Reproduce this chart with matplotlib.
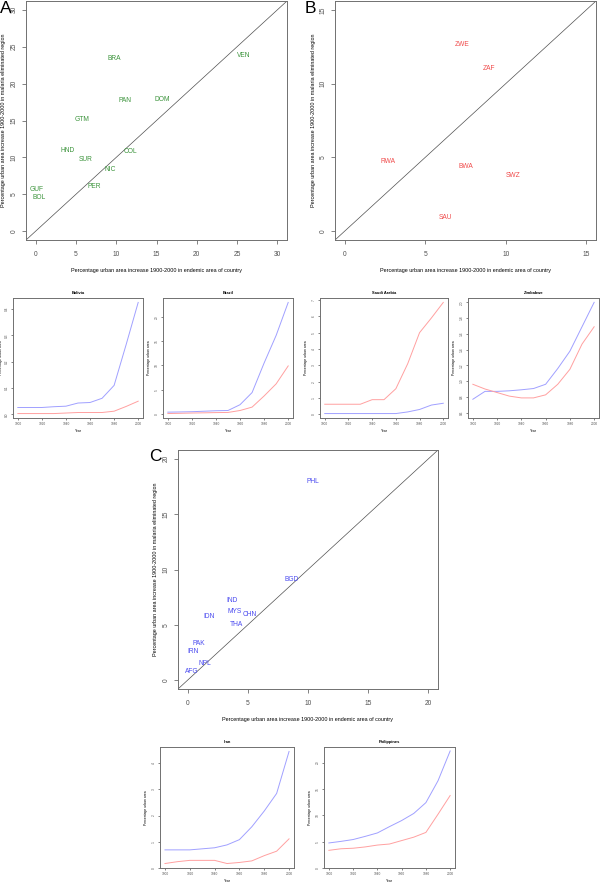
import numpy as np
import matplotlib
matplotlib.use("Agg")
import matplotlib.pyplot as plt

plt.rcParams['font.family'] = ['Liberation Sans', 'DejaVu Sans']

# ---- scatter panels (country codes drawn as text) ----
a_codes = ["BRA", "VEN", "PAN", "DOM", "GTM", "HND", "COL", "SUR", "NIC", "PER", "GUF", "BOL"]
a_x = [9.7, 25.8, 11.1, 15.7, 5.7, 4.0, 11.8, 6.2, 9.25, 7.25, 0.17, 0.42]
a_y = [23.4, 23.85, 17.75, 17.8, 15.1, 11.0, 10.85, 9.76, 8.4, 6.05, 5.69, 4.61]

b_codes = ["ZWE", "ZAF", "RWA", "BWA", "SWZ", "SAU"]
b_x = [7.3, 8.98, 2.72, 7.51, 10.48, 6.24]
b_y = [12.67, 11.05, 4.74, 4.4, 3.75, 0.9]

c_codes = ["PHL", "BGD", "IND", "MYS", "CHN", "IDN", "THA", "PAK", "IRN", "NPL", "AFG"]
c_x = [10.37, 8.66, 3.68, 3.9, 5.12, 1.8, 4.07, 0.97, 0.47, 1.47, 0.36]
c_y = [17.95, 9.08, 7.16, 6.17, 5.95, 5.71, 5.02, 3.28, 2.56, 1.5, 0.75]

# ---- small time-series panels ----
years = [1900, 1910, 1920, 1930, 1940, 1950, 1960, 1970, 1980, 1990, 2000]

bolivia_blue = [0.026, 0.026, 0.026, 0.029, 0.031, 0.043, 0.045, 0.061, 0.11, 0.265, 0.425]
bolivia_red = [0.003, 0.003, 0.003, 0.003, 0.005, 0.007, 0.007, 0.007, 0.012, 0.03, 0.05]

brazil_blue = [0.36, 0.4, 0.45, 0.55, 0.65, 0.7, 1.9, 4.4, 10.5, 16.2, 23.0]
brazil_red = [0.07, 0.12, 0.18, 0.22, 0.27, 0.3, 0.7, 1.4, 3.7, 6.2, 9.9]

saudi_blue = [0.05, 0.05, 0.05, 0.05, 0.05, 0.05, 0.05, 0.15, 0.3, 0.57, 0.68]
saudi_red = [0.62, 0.62, 0.62, 0.62, 0.9, 0.9, 1.57, 3.1, 5.0, 5.9, 6.85]

zimbabwe_blue = [0.77, 0.87, 0.87, 0.877, 0.89, 0.906, 0.96, 1.16, 1.38, 1.69, 2.0]
zimbabwe_red = [0.96, 0.9, 0.855, 0.81, 0.787, 0.787, 0.826, 0.96, 1.15, 1.47, 1.69]

iran_blue = [0.69, 0.69, 0.69, 0.73, 0.77, 0.88, 1.08, 1.57, 2.17, 2.84, 4.44]
iran_red = [0.17, 0.24, 0.29, 0.29, 0.29, 0.17, 0.21, 0.27, 0.47, 0.64, 1.11]

phil_blue = [4.75, 5.05, 5.4, 6.0, 6.65, 7.85, 9.0, 10.35, 12.4, 16.55, 22.2]
phil_red = [3.35, 3.65, 3.75, 4.0, 4.35, 4.55, 5.2, 5.85, 6.75, 10.2, 13.75]

W, H = 600, 882
fig = plt.figure(figsize=(W / 100, H / 100), dpi=100)


def rect(x0, y0, x1, y1):
    return [x0 / W, 1 - y1 / H, (x1 - x0) / W, (y1 - y0) / H]


def r_style(ax, tick_fs, ticklen):
    for s in ax.spines.values():
        s.set_color('#707070')
        s.set_linewidth(0.7)
    ax.tick_params(length=ticklen, width=0.5, colors='#505050', labelsize=tick_fs, pad=1.5)
    for lab in ax.get_yticklabels():
        lab.set_rotation(90)
        lab.set_va('center')


def scatter_panel(r, codes, xs, ys, color, lim, ticks, letter, letter_xy):
    ax = fig.add_axes(rect(*r))
    pad = lim * 0.04
    ax.set_xlim(-pad, lim + pad)
    ax.set_ylim(-pad, lim + pad)
    ax.plot([-pad, lim + pad], [-pad, lim + pad], color='#505050', lw=0.5)
    for c, x, y in zip(codes, xs, ys):
        ax.text(x, y, c, color=color, fontsize=4.8, ha='center', va='center')
    ax.set_xticks(ticks)
    ax.set_yticks(ticks)
    r_style(ax, 4.8, 3)
    ax.tick_params(axis='x', pad=5)
    ax.tick_params(axis='y', pad=3)
    ax.set_xlabel("Percentage urban area increase 1900-2000 in endemic area of country",
                  fontsize=3.9, labelpad=7)
    ax.set_ylabel("Percentage urban area increase 1900-2000 in malaria eliminated region",
                  fontsize=3.9, labelpad=3)
    fig.text(letter_xy[0] / W, 1 - letter_xy[1] / H, letter, fontsize=12.5,
             ha='left', va='top')
    return ax


scatter_panel((26, 1, 287, 240), a_codes, a_x, a_y, '#3c943c', 30,
              [0, 5, 10, 15, 20, 25, 30], "A", (0, 1))
scatter_panel((335, 1, 596, 240), b_codes, b_x, b_y, '#f04a4a', 15,
              [0, 5, 10, 15], "B", (305, 1))
scatter_panel((178, 450, 438, 689), c_codes, c_x, c_y, '#4a4af0', 20,
              [0, 5, 10, 15, 20], "C", (149, 449))


def ts_panel(r, title, blue, red, yticks, ylim=None, ylabelpad=3):
    ax = fig.add_axes(rect(*r))
    ax.plot(years, blue, color='#a0a0ff', lw=0.7)
    ax.plot(years, red, color='#ffa0a0', lw=0.7)
    ax.margins(x=0.04, y=0.04)
    if ylim is not None:
        ax.set_ylim(*ylim)
    ax.set_xticks([1900, 1920, 1940, 1960, 1980, 2000])
    ax.set_yticks(yticks)
    r_style(ax, 2.3, 1.5)
    ax.set_title(title, fontsize=2.9, fontweight='bold', pad=3)
    ax.set_xlabel("Year", fontsize=2.4, labelpad=2)
    ax.set_ylabel("Percentage urban area", fontsize=2.4, labelpad=ylabelpad)
    return ax


ts_panel((13, 298, 143, 418), "Bolivia", bolivia_blue, bolivia_red,
         [0.0, 0.1, 0.2, 0.3, 0.4], ylabelpad=1)
ts_panel((163, 298, 293, 418), "Brazil", brazil_blue, brazil_red,
         [0, 5, 10, 15, 20])
ts_panel((320, 298, 448, 418), "Saudi Arabia", saudi_blue, saudi_red,
         [0, 1, 2, 3, 4, 5, 6, 7])
ts_panel((468, 298, 599, 418), "Zimbabwe", zimbabwe_blue, zimbabwe_red,
         [0.6, 0.8, 1.0, 1.2, 1.4, 1.6, 1.8, 2.0], ylim=(0.532, 2.055))
ts_panel((160, 747, 294, 868), "Iran", iran_blue, iran_red,
         [0, 1, 2, 3, 4])
ts_panel((324, 747, 455, 868), "Philippines", phil_blue, phil_red,
         [0, 5, 10, 15, 20])

fig.savefig("out.png", dpi=100)
